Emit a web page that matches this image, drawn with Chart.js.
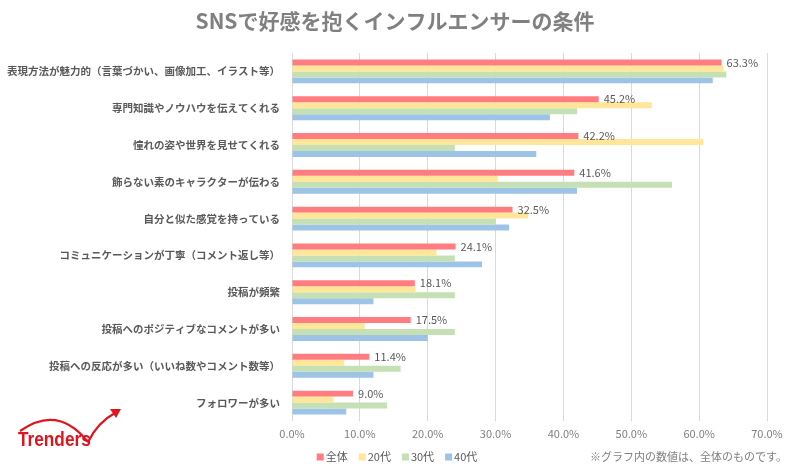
<!DOCTYPE html>
<html>
<head>
<meta charset="utf-8">
<script src="https://cdn.jsdelivr.net/npm/chart.js@4.4.0/dist/chart.umd.min.js"></script>
<style>
html,body{margin:0;padding:0;background:#fff;}
#wrap{width:800px;height:471px;position:relative;}
</style>
</head>
<body>
<div id="wrap"><canvas id="c" width="800" height="471"></canvas></div>
<script>
const titleText = 'SNSで好感を抱くインフルエンサーの条件';
const footnote = '※グラフ内の数値は、全体のものです。';
const categories = [
  '表現方法が魅力的（言葉づかい、画像加工、イラスト等）',
  '専門知識やノウハウを伝えてくれる',
  '憧れの姿や世界を見せてくれる',
  '飾らない素のキャラクターが伝わる',
  '自分と似た感覚を持っている',
  'コミュニケーションが丁寧（コメント返し等）',
  '投稿が頻繁',
  '投稿へのポジティブなコメントが多い',
  '投稿への反応が多い（いいね数やコメント数等）',
  'フォロワーが多い'
];
const seriesNames = ['全体', '20代', '30代', '40代'];
const allAges = [63.3, 45.2, 42.2, 41.6, 32.5, 24.1, 18.1, 17.5, 11.4, 9.0];
const age20 = [63.6, 53.0, 60.6, 30.3, 34.8, 21.3, 18.2, 10.7, 7.7, 6.1];
const age30 = [64.0, 42.0, 24.0, 56.0, 30.0, 24.0, 24.0, 24.0, 16.0, 14.0];
const age40 = [62.0, 38.0, 36.0, 42.0, 32.0, 28.0, 12.0, 20.0, 12.0, 8.0];
const xTicks = [0, 10, 20, 30, 40, 50, 60, 70];
const colors = ['#FF7C80', '#FFE699', '#C5E0B4', '#9DC3E6'];

const FONT = '"Noto Sans CJK JP", "Noto Sans", sans-serif';

const decorPlugin = {
  id: 'decor',
  afterDatasetsDraw(chart) {
    const ctx = chart.ctx;
    const meta = chart.getDatasetMeta(0);
    ctx.save();
    ctx.font = '11px ' + FONT;
    ctx.fillStyle = '#595959';
    ctx.textBaseline = 'middle';
    ctx.textAlign = 'left';
    meta.data.forEach((el, i) => {
      ctx.fillText(allAges[i].toFixed(1) + '%', el.x + 5, el.y);
    });
    ctx.restore();
  },
  afterDraw(chart) {
    const ctx = chart.ctx;
    ctx.save();
    // title
    ctx.font = 'bold 21px ' + FONT;
    ctx.fillStyle = '#808080';
    ctx.textAlign = 'center';
    ctx.textBaseline = 'middle';
    ctx.fillText(titleText, 395, 21);

    // legend
    ctx.font = '11px ' + FONT;
    ctx.textAlign = 'left';
    const box = 7, gap = 2, space = 11;
    const widths = seriesNames.map(n => ctx.measureText(n).width);
    let total = 0;
    widths.forEach((w, i) => { total += box + gap + w + (i < widths.length - 1 ? space : 0); });
    let x = 397 - total / 2;
    const ly = 457;
    chart.data.datasets.forEach((ds, i) => {
      ctx.fillStyle = ds.backgroundColor;
      ctx.fillRect(x, ly - box / 2, box, box);
      ctx.fillStyle = '#595959';
      ctx.fillText(ds.label, x + box + gap, ly);
      x += box + gap + widths[i] + space;
    });

    // footnote
    ctx.fillStyle = '#7f7f7f';
    ctx.textAlign = 'right';
    ctx.fillText(footnote, 787, ly);

    // logo
    ctx.fillStyle = '#E0141E';
    ctx.strokeStyle = '#E0141E';
    ctx.textAlign = 'left';
    ctx.textBaseline = 'alphabetic';
    ctx.save();
    ctx.translate(18, 446);
    ctx.scale(0.82, 1);
    ctx.font = 'bold 21px "Liberation Sans", sans-serif';
    ctx.fillText('Trenders', 0, 0);
    ctx.restore();
    ctx.lineWidth = 2.2;
    ctx.beginPath();
    ctx.moveTo(20, 431);
    ctx.quadraticCurveTo(58, 404, 88, 442);
    ctx.stroke();
    ctx.beginPath();
    ctx.moveTo(88, 442);
    ctx.quadraticCurveTo(98, 422, 115, 413);
    ctx.stroke();
    ctx.beginPath();
    ctx.moveTo(121, 409);
    ctx.lineTo(110, 409);
    ctx.lineTo(116, 418);
    ctx.closePath();
    ctx.fill();
    ctx.restore();
  }
};

const chart = new Chart(document.getElementById('c'), {
  type: 'bar',
  data: {
    labels: categories,
    datasets: [
      { label: seriesNames[0], data: allAges, backgroundColor: colors[0] },
      { label: seriesNames[1], data: age20, backgroundColor: colors[1] },
      { label: seriesNames[2], data: age30, backgroundColor: colors[2] },
      { label: seriesNames[3], data: age40, backgroundColor: colors[3] }
    ]
  },
  options: {
    indexAxis: 'y',
    responsive: false,
    animation: false,
    devicePixelRatio: 1,
    datasets: { bar: { categoryPercentage: 0.65, barPercentage: 1.0 } },
    layout: { padding: { top: 53, right: 33, bottom: 25, left: 0 } },
    plugins: { legend: { display: false }, title: { display: false }, tooltip: { enabled: false } },
    scales: {
      x: {
        min: 0, max: 70,
        afterBuildTicks(scale) { scale.ticks = xTicks.map(v => ({ value: v })); },
        ticks: {
          callback: v => Number(v).toFixed(1) + '%',
          font: { size: 11, family: FONT },
          color: '#7f7f7f',
          padding: 6,
          maxRotation: 0
        },
        grid: { color: '#d9d9d9', drawTicks: false },
        border: { display: false },
        afterFit(scale) { scale.height = 25; }
      },
      y: {
        ticks: {
          font: { size: 10.5, weight: 'bold', family: FONT },
          color: '#595959',
          padding: 12,
          autoSkip: false
        },
        grid: { display: false, drawTicks: false },
        border: { display: false },
        afterFit(scale) { scale.width = 292; }
      }
    }
  },
  plugins: [decorPlugin]
});
</script>
</body>
</html>
